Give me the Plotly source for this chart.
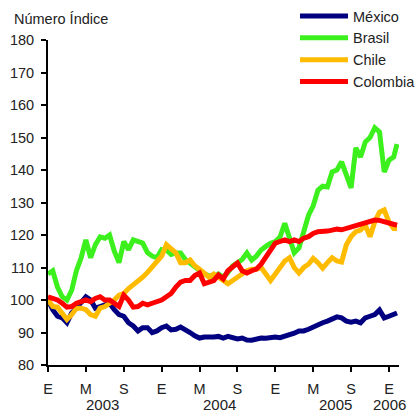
import plotly.graph_objects as go

# x positions in months since January 2003 (0 = Jan 2003)
months = [i * 0.5 for i in range(74)] + [36.85]

mexico = [100, 97, 95, 94.5, 93, 96, 97.5, 99, 101, 100, 97.5, 98, 98.5, 99, 97, 95.5,
          95, 93, 92, 90.5, 91.5, 91.5, 90, 90.5, 91.5, 92, 90.8, 91, 91.7, 91, 90, 89,
          88.3, 88.6, 88.5, 88.6, 88.8, 88.3, 88.8, 88.5, 88, 88.3, 87.7, 87.6, 88, 88.3,
          88.2, 88.5, 88.6, 88.4, 88.8, 89.2, 89.8, 90.5, 90.5, 91, 91.8, 92.3, 93, 93.5,
          94, 94.8, 94.5, 93.5, 93.2, 93.5, 93, 94.5, 95, 95.5, 96.9, 94.5, 95, 95.5, 96]

brasil = [108, 109, 104, 101, 100, 103, 109, 113, 118.5, 113, 117, 119.4, 119, 120, 115,
          111.5, 118, 115.5, 118.5, 118, 117.5, 114.6, 113.5, 113, 115.5, 115.4, 114,
          114.5, 114.5, 112.5, 111.4, 110.5, 109.2, 108, 107.5, 107.1, 108, 107, 108.5,
          110.5, 111.4, 112.5, 114.5, 112.3, 113.5, 115.4, 116.5, 117.5, 118, 119.4, 123.6,
          118.5, 114.5, 116, 121.5, 126, 129, 133.8, 135, 134.8, 139.4, 140, 142.5, 138,
          134.5, 146.8, 144, 148.6, 150, 153, 151.7, 139.4, 143, 144, 148]

chile = [100, 98, 97.8, 96, 94, 95.5, 97.5, 97.5, 97, 95.5, 95, 97.5, 98, 99, 100, 101.5,
         102, 103.5, 104.6, 105.5, 107, 108.5, 110, 112, 113.5, 117, 115.5, 114.5, 111.5,
         111.5, 112.3, 110.5, 109.5, 108, 107, 108, 107, 106, 105, 106, 107, 107.7, 109,
         109.5, 109.5, 110, 108, 106, 108, 110, 112, 113, 110, 108.3, 110, 111, 112.8,
         111.5, 109.8, 111.5, 113, 112, 111.7, 117, 119.5, 121, 121.5, 123, 119.5, 124,
         127, 127.7, 124, 122, 122]

colombia = [101, 100.5, 100, 99, 97.8, 98, 99, 99.5, 100, 99.5, 100.5, 101, 100, 100, 99,
            98, 101.5, 100, 97.8, 98, 99, 98.5, 99, 99.5, 100, 101, 102, 104, 105.5, 106,
            106, 107.5, 108.3, 105, 105.5, 106, 107.7, 106.5, 109, 110, 111.4, 109, 108.3,
            109, 109.5, 111, 113, 115, 117.5, 118, 118.5, 118, 118.5, 118, 119, 119.5,
            120.5, 121, 121, 121.2, 121.5, 121.8, 121.6, 122, 122.3, 122.8, 123.2, 123.6,
            124, 124.6, 124.5, 124, 123.6, 123.3, 123]

series_names = ["México", "Brasil", "Chile", "Colombia"]
series_values = [mexico, brasil, chile, colombia]
series_colors = ["#000080", "#3cf01e", "#ffbb00", "#ff0000"]

tick_months = [0, 4, 8, 12, 16, 20, 24, 28, 32, 36]
tick_labels = ["E", "M", "S", "E", "M", "S", "E", "M", "S", "E"]
year_labels = ["2003", "2004", "2005", "2006"]
year_positions = [5.8, 18.06, 30.4, 36.1]

FONT = "Liberation Sans, Arial, sans-serif"
W, H = 417, 413
L, R, T, B = 48, 18, 40, 48
PW, PH = W - L - R, H - T - B

fig = go.Figure()
for i, (name, vals, col) in enumerate(zip(series_names, series_values, series_colors)):
    fig.add_trace(go.Scatter(x=months, y=vals, mode="lines", name=name,
                             line=dict(color=col, width=5), legendrank=i + 1))

for yl, xp in zip(year_labels, year_positions):
    fig.add_annotation(x=xp, y=-(404 - (H - B)) / PH, xref="x", yref="paper", text=yl,
                       showarrow=False, font=dict(size=15, color="#222", family=FONT),
                       xanchor="center", yanchor="middle")

fig.add_annotation(x=(12 - L) / PW, y=((H - B) - 19) / PH, xref="paper", yref="paper",
                   text="Número Índice", showarrow=False, xanchor="left",
                   yanchor="middle", font=dict(size=14.5, color="#222", family=FONT))

fig.update_layout(
    width=W, height=H,
    margin=dict(l=L, r=R, t=T, b=B, autoexpand=False),
    paper_bgcolor="white", plot_bgcolor="white",
    font=dict(family=FONT, color="#222", size=14.5),
    showlegend=True,
    legend=dict(xref="container", yref="container", x=295 / W, y=1.0,
                xanchor="left", yanchor="top", bgcolor="rgba(0,0,0,0)",
                font=dict(size=14.5, color="#222", family=FONT),
                itemwidth=48, tracegroupgap=0),
    xaxis=dict(range=[0, 37.06], tickmode="array", tickvals=tick_months,
               ticktext=tick_labels, showgrid=False, zeroline=False,
               showline=True, linecolor="black", linewidth=2,
               ticks="outside", ticklen=5, tickwidth=2, tickcolor="black",
               ticklabelstandoff=5,
               tickfont=dict(size=14.5, color="#222", family=FONT)),
    yaxis=dict(range=[80, 180], tickmode="array",
               tickvals=[80, 90, 100, 110, 120, 130, 140, 150, 160, 170, 180],
               showgrid=False, zeroline=False,
               showline=True, linecolor="black", linewidth=2,
               ticks="outside", ticklen=5, tickwidth=2, tickcolor="black",
               ticklabelstandoff=4,
               tickfont=dict(size=14.5, color="#222", family=FONT)),
)

fig.write_html("out.html", config={"displayModeBar": False},
               post_script="document.body.style.margin='0';document.body.style.padding='0';")
